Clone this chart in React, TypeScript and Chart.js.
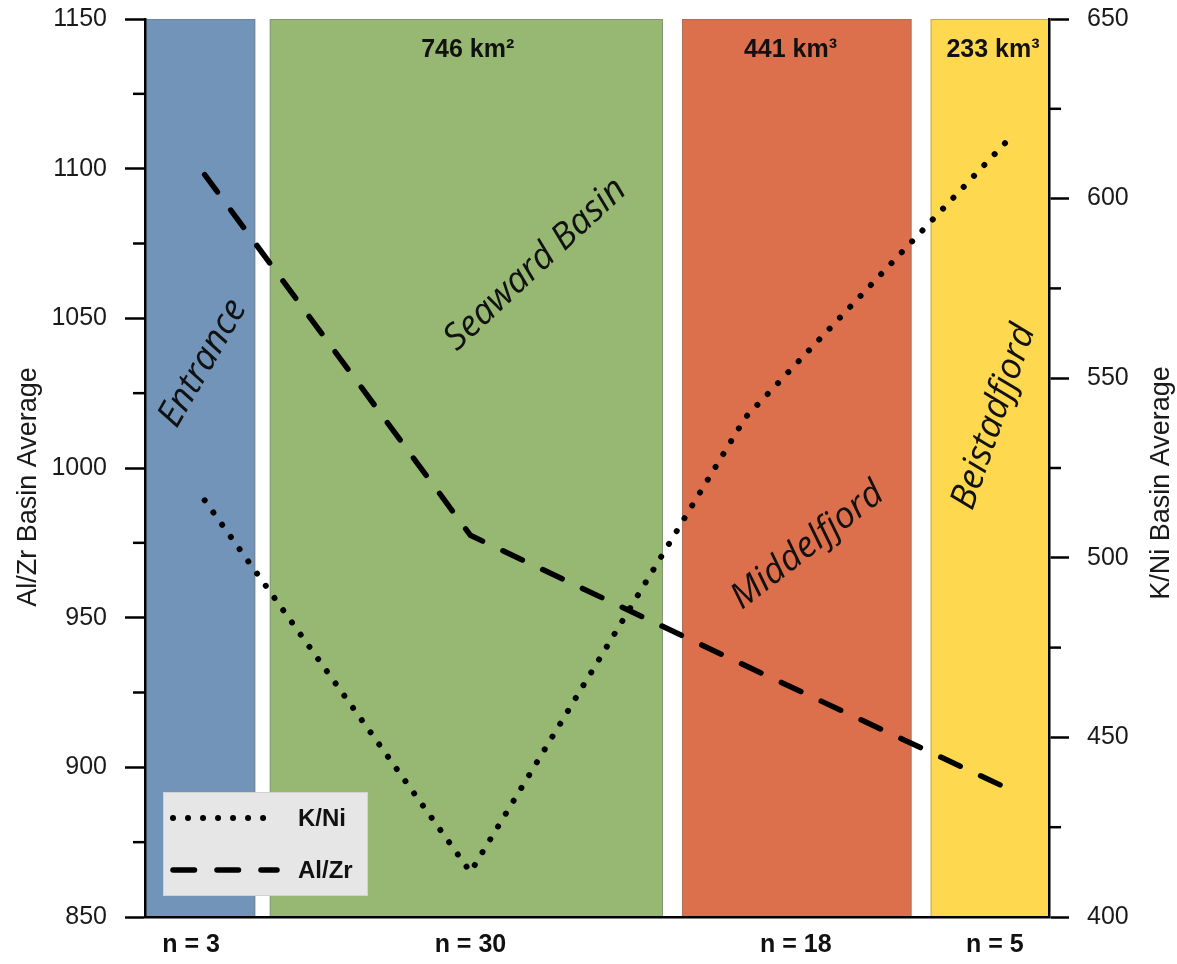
import React, { useEffect, useRef } from "react";
import { Chart, registerables } from "chart.js";

Chart.register(...registerables);

// ---- data ----
const siteX = [6.6, 36.0, 66.4, 96.1];
const alZr = [1098, 977.5, 934, 892];
const kNi = [516, 412.5, 539, 618];

const basinNames = ["Entrance", "Seaward Basin", "Middelfjord", "Beistadfjord"];
const basinStart = [0, 13.8, 59.4, 86.9];
const basinEnd = [12.2, 57.3, 84.8, 100];
const basinColors = ["#7294b9", "#96b873", "#dd704c", "#fed84e"];
const basinSizes = ["", "746 km²", "441 km³", "233 km³"];
const sizeLabelX = [6.1, 35.7, 71.4, 93.8];
const sampleCounts = ["n = 3", "n = 30", "n = 18", "n = 5"];
const countPos = [5.1, 36.0, 72.0, 94.0];

const leftTitle = "Al/Zr Basin Average";
const rightTitle = "K/Ni Basin Average";

// label placement (data coords) and rotation for basin names
const nameX = [6.4, 43.2, 73.3, 93.9];
const nameY = [1035, 1068, 974, 1017];
const nameAngle = [-60, -43, -38, -71];

const FONT = '"Liberation Sans", Arial, sans-serif';

const decorPlugin = {
  id: "decor",
  beforeDraw(chart: any) {
    const { ctx, chartArea, scales } = chart;
    const x = scales.x;
    const h = chartArea.bottom - chartArea.top;
    ctx.save();
    basinStart.forEach((s, i) => {
      const x0 = x.getPixelForValue(s);
      const x1 = x.getPixelForValue(basinEnd[i]);
      ctx.fillStyle = basinColors[i];
      ctx.fillRect(x0, chartArea.top, x1 - x0, h);
      ctx.strokeStyle = "rgba(110,110,110,0.45)";
      ctx.lineWidth = 1;
      ctx.strokeRect(x0 + 0.5, chartArea.top + 0.5, x1 - x0 - 1, h - 1);
    });
    ctx.restore();
  },
  beforeDatasetsDraw(chart: any) {
    const { ctx, chartArea, scales } = chart;
    const x = scales.x;
    const y = scales.y;
    ctx.save();
    ctx.fillStyle = "#111";
    ctx.textAlign = "center";
    ctx.textBaseline = "middle";
    basinNames.forEach((name, i) => {
      ctx.save();
      ctx.translate(x.getPixelForValue(nameX[i]), y.getPixelForValue(nameY[i]));
      ctx.rotate((nameAngle[i] * Math.PI) / 180);
      ctx.font = 'italic 36px "Open Sans", sans-serif';
      ctx.fillText(name, 0, 0);
      ctx.restore();
    });
    ctx.font = `bold 25px ${FONT}`;
    basinSizes.forEach((t, i) => {
      if (!t) return;
      ctx.fillText(t, x.getPixelForValue(sizeLabelX[i]), chartArea.top + 31);
    });
    ctx.restore();
  },
  afterDatasetsDraw(chart: any) {
    const { ctx, chartArea, scales } = chart;
    ctx.save();
    // minor ticks
    ["y", "y2"].forEach((id) => {
      const s = scales[id];
      ctx.strokeStyle = "#000";
      ctx.lineWidth = 2.5;
      s.ticks.forEach((t: any) => {
        if (t.value % 50 === 0) return;
        const py = s.getPixelForValue(t.value);
        ctx.beginPath();
        if (id === "y") {
          ctx.moveTo(chartArea.left, py);
          ctx.lineTo(chartArea.left - 12, py);
        } else {
          ctx.moveTo(chartArea.right, py);
          ctx.lineTo(chartArea.right + 12, py);
        }
        ctx.stroke();
      });
    });
    // axis titles
    const midY = (chartArea.top + chartArea.bottom) / 2;
    ctx.fillStyle = "#1a1a1a";
    ctx.font = `27px ${FONT}`;
    ctx.textAlign = "center";
    ctx.textBaseline = "middle";
    ctx.save();
    ctx.translate(chartArea.left - 116, midY + 19);
    ctx.rotate(-Math.PI / 2);
    ctx.fillText(leftTitle, 0, 0);
    ctx.restore();
    ctx.save();
    ctx.translate(chartArea.right + 113, midY + 15);
    ctx.rotate(-Math.PI / 2);
    ctx.fillText(rightTitle, 0, 0);
    ctx.restore();
    // legend
    const bx = chartArea.left + 18;
    const by = chartArea.bottom - 125;
    ctx.fillStyle = "#e6e6e6";
    ctx.fillRect(bx, by, 205, 104);
    ctx.strokeStyle = "#d2d2d2";
    ctx.lineWidth = 1;
    ctx.strokeRect(bx + 0.5, by + 0.5, 204, 103);
    const items = [
      { ds: chart.data.datasets[0], y: by + 26, len: 92 },
      { ds: chart.data.datasets[1], y: by + 78, len: 104 },
    ];
    items.forEach((it) => {
      ctx.save();
      ctx.strokeStyle = "#000";
      ctx.lineWidth = it.ds.borderWidth;
      ctx.lineCap = "round";
      ctx.setLineDash(it.ds.borderDash);
      ctx.beginPath();
      ctx.moveTo(bx + 10, it.y);
      ctx.lineTo(bx + 10 + it.len, it.y);
      ctx.stroke();
      ctx.restore();
      ctx.fillStyle = "#111";
      ctx.font = `bold 24px ${FONT}`;
      ctx.textAlign = "left";
      ctx.textBaseline = "middle";
      ctx.fillText(it.ds.label, bx + 135, it.y + 1);
    });
    ctx.restore();
  },
};

export default function App() {
  const ref = useRef<HTMLCanvasElement>(null);
  useEffect(() => {
    if (!ref.current) return;
    Chart.defaults.font.family = FONT;
    const tickOpts = {
      stepSize: 25,
      autoSkip: false,
      callback: (v: any) => (v % 50 === 0 ? String(v) : ""),
      font: { family: FONT, size: 25 },
      color: "#1a1a1a",
      padding: 18,
    };
    const gridOpts = {
      drawOnChartArea: false,
      tickLength: 20,
      tickWidth: 2.5,
      tickColor: (c: any) => (c.tick && c.tick.value % 50 === 0 ? "#000" : "rgba(0,0,0,0)"),
    };
    const chart = new Chart(ref.current, {
      type: "line",
      data: {
        datasets: [
          {
            label: "K/Ni",
            data: siteX.map((v, i) => ({ x: v, y: kNi[i] })),
            yAxisID: "y2",
            borderColor: "#000",
            borderWidth: 6,
            borderDash: [0.01, 15],
            borderCapStyle: "round",
            pointRadius: 0,
            tension: 0,
            fill: false,
          },
          {
            label: "Al/Zr",
            data: siteX.map((v, i) => ({ x: v, y: alZr[i] })),
            yAxisID: "y",
            borderColor: "#000",
            borderWidth: 5.5,
            borderDash: [21.5, 22.5],
            borderCapStyle: "round",
            pointRadius: 0,
            tension: 0,
            fill: false,
          },
        ],
      },
      options: {
        responsive: false,
        animation: false,
        layout: { padding: { top: 19, left: 0, right: 0, bottom: 0 } },
        plugins: { legend: { display: false }, tooltip: { enabled: false } },
        scales: {
          x: {
            type: "linear",
            min: 0,
            max: 100,
            position: "bottom",
            afterBuildTicks: (s: any) => {
              s.ticks = countPos.map((v) => ({ value: v }));
            },
            ticks: {
              callback: (_v: any, i: number) => sampleCounts[i],
              font: { family: FONT, size: 25, weight: "bold" },
              color: "#111",
              padding: 13,
              autoSkip: false,
              maxRotation: 0,
            },
            grid: { display: true, drawOnChartArea: false, drawTicks: false },
            border: { display: true, color: "#000", width: 2.5 },
            afterFit: (s: any) => {
              s.height = 47;
              s.paddingLeft = 0;
              s.paddingRight = 0;
            },
          },
          y: {
            position: "left",
            min: 850,
            max: 1150,
            ticks: tickOpts,
            grid: gridOpts,
            border: { color: "#000", width: 2.5 },
            afterFit: (s: any) => {
              s.width = 145;
              s.paddingTop = 0;
              s.paddingBottom = 0;
            },
          },
          y2: {
            position: "right",
            min: 400,
            max: 650,
            ticks: tickOpts,
            grid: gridOpts,
            border: { color: "#000", width: 2.5 },
            afterFit: (s: any) => {
              s.width = 128;
              s.paddingTop = 0;
              s.paddingBottom = 0;
            },
          },
        },
      },
      plugins: [decorPlugin],
    } as any);
    return () => chart.destroy();
  }, []);
  return (
    <div style={{ position: "absolute", left: 0, top: 0, width: 1177, height: 964, background: "#fff" }}>
      <canvas ref={ref} width={1177} height={964} style={{ display: "block" }} />
    </div>
  );
}
